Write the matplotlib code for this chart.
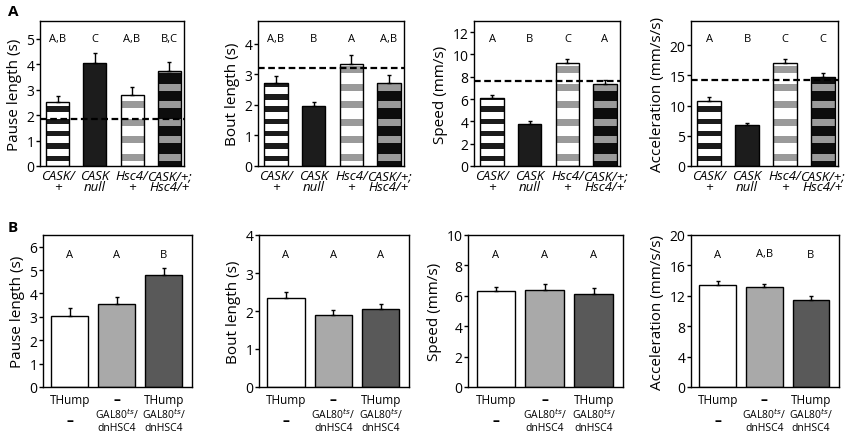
import numpy as np
import matplotlib
matplotlib.use("Agg")
import matplotlib.pyplot as plt
from matplotlib.transforms import blended_transform_factory

plt.rcParams['font.family'] = ['Open Sans', 'DejaVu Sans']

# ---- panel A data ----
a_groups = ["CASK/\n+", "CASK\nnull", "Hsc4/\n+", "CASK/+;\nHsc4/+"]
a_ylabels = ["Pause length (s)", "Bout length (s)", "Speed (mm/s)", "Acceleration (mm/s/s)"]
a_means = [
    [2.52, 4.05, 2.78, 3.72],
    [2.72, 1.97, 3.33, 2.72],
    [6.1, 3.8, 9.2, 7.35],
    [10.8, 6.8, 17.0, 14.7],
]
a_err = [
    [0.22, 0.40, 0.33, 0.35],
    [0.23, 0.13, 0.32, 0.25],
    [0.30, 0.20, 0.38, 0.40],
    [0.55, 0.30, 0.65, 0.70],
]
a_ref = [1.83, 3.2, 7.6, 14.3]          # dashed reference line
a_letters = [
    ["A,B", "C", "A,B", "B,C"],
    ["A,B", "B", "A", "A,B"],
    ["A", "B", "C", "A"],
    ["A", "B", "C", "C"],
]
a_ylim = [5.7, 4.75, 13.0, 24.0]
a_yticks = [[0, 1, 2, 3, 4, 5], [0, 1, 2, 3, 4], [0, 2, 4, 6, 8, 10, 12], [0, 5, 10, 15, 20]]

# ---- panel B data ----
b_row1 = ["THump", "–", "THump"]
b_row2 = ["–", "GAL80$^{ts}$/\ndnHSC4", "GAL80$^{ts}$/\ndnHSC4"]
b_ylabels = ["Pause length (s)", "Bout length (s)", "Speed (mm/s)", "Acceleration (mm/s/s)"]
b_means = [
    [3.05, 3.55, 4.77],
    [2.33, 1.90, 2.05],
    [6.3, 6.4, 6.15],
    [13.4, 13.1, 11.5],
]
b_err = [
    [0.33, 0.32, 0.33],
    [0.17, 0.12, 0.13],
    [0.30, 0.35, 0.35],
    [0.60, 0.50, 0.50],
]
b_letters = [
    ["A", "A", "B"],
    ["A", "A", "A"],
    ["A", "A", "A"],
    ["A", "A,B", "B"],
]
b_ylim = [6.5, 4, 10, 20]
b_yticks = [[0, 1, 2, 3, 4, 5, 6], [0, 1, 2, 3, 4], [0, 2, 4, 6, 8, 10], [0, 4, 8, 12, 16, 20]]
b_colors = ["white", "#a9a9a9", "#595959"]

W, H = 850, 435
fig = plt.figure(figsize=(W / 100, H / 100), dpi=100)


def px_axes(l, r, t, b):
    return fig.add_axes([l / W, (H - b) / H, (r - l) / W, (b - t) / H])


a_boxes = [(40, 184), (258, 404), (474, 620), (691, 838)]
b_boxes = [(43, 192), (259, 409), (468, 623), (691, 839)]

# stripe styles for the four A bars: (background, stripe colour, period px, band px)
stripe_style = [
    ("white", "#1c1c1c", 12.3, 5.5),
    ("#1c1c1c", None, None, None),
    ("white", "#9a9a9a", 17.6, 7.0),
    ("#0d0d0d", "#9a9a9a", 17.6, 7.0),
]


def style_axes(ax, ymax, yticks, ylabel):
    ax.set_ylim(0, ymax)
    ax.set_yticks(yticks)
    ax.tick_params(axis='y', direction='out', length=3, width=1, labelsize=10, pad=1)
    ax.tick_params(axis='x', length=0, pad=2)
    ax.set_ylabel(ylabel, fontsize=11, labelpad=3)
    for s in ax.spines.values():
        s.set_linewidth(1)


for i in range(4):
    l, r = a_boxes[i]
    ax = px_axes(l, r, 22, 167)
    x = np.arange(4)
    ax.set_xlim(-0.48, 3.4)
    style_axes(ax, a_ylim[i], a_yticks[i], a_ylabels[i])
    unit = a_ylim[i] / 145.0   # data units per pixel
    width = 0.62
    for j in range(4):
        bg, sc, per, band = stripe_style[j]
        h = a_means[i][j]
        ax.bar(x[j], h, width, color=bg, edgecolor='none', zorder=2)
        if sc is not None:
            y0 = 5 * unit
            while y0 < h:
                top = min(y0 + band * unit, h)
                ax.bar(x[j], top - y0, width, bottom=y0, color=sc, edgecolor='none', zorder=2)
                y0 += per * unit
        ax.bar(x[j], h, width, color='none', edgecolor='black', linewidth=1, zorder=3)
    ax.errorbar(x, a_means[i], yerr=[np.zeros(4), a_err[i]], fmt='none', ecolor='black',
                elinewidth=1, capsize=1.5, capthick=1, zorder=4)
    ax.axhline(a_ref[i], color='black', linestyle=(0, (3, 1.6)), linewidth=1.6, zorder=5)
    for j in range(4):
        ax.text(x[j], 0.88, a_letters[i][j], transform=ax.get_xaxis_transform(),
                ha='center', va='center', fontsize=8)
    ax.set_xticks(x)
    ax.set_xticklabels(a_groups, fontsize=9.5, style='italic', linespacing=0.85)

for i in range(4):
    l, r = b_boxes[i]
    ax = px_axes(l, r, 236, 388)
    x = np.arange(3)
    ax.set_xlim(-0.57, 2.6)
    style_axes(ax, b_ylim[i], b_yticks[i], b_ylabels[i])
    ax.bar(x, b_means[i], 0.79, color=b_colors, edgecolor='black', linewidth=1, zorder=2)
    ax.errorbar(x, b_means[i], yerr=[np.zeros(3), b_err[i]], fmt='none', ecolor='black',
                elinewidth=1, capsize=1.5, capthick=1, zorder=4)
    for j in range(3):
        ax.text(x[j], 0.875, b_letters[i][j], transform=ax.get_xaxis_transform(),
                ha='center', va='center', fontsize=8)
    ax.set_xticks([])
    tr = blended_transform_factory(ax.transData, ax.transAxes)
    for j in range(3):
        for txt, yy in ((b_row1[j], -0.08), (b_row2[j], -0.22)):
            if txt == "–":
                ax.text(x[j], yy, txt, transform=tr, ha='center', va='center',
                        fontsize=10, fontweight='bold')
            elif txt == "THump":
                ax.text(x[j], yy, txt, transform=tr, ha='center', va='center', fontsize=8.5)
            else:
                ax.text(x[j], yy, txt, transform=tr, ha='center', va='center',
                        fontsize=7.5, linespacing=1.1)

fig.text(8 / W, 1 - 12 / H, "A", fontsize=11, fontweight='bold', va='center')
fig.text(8 / W, 1 - 228 / H, "B", fontsize=11, fontweight='bold', va='center')

fig.savefig("out.png", dpi=100)
